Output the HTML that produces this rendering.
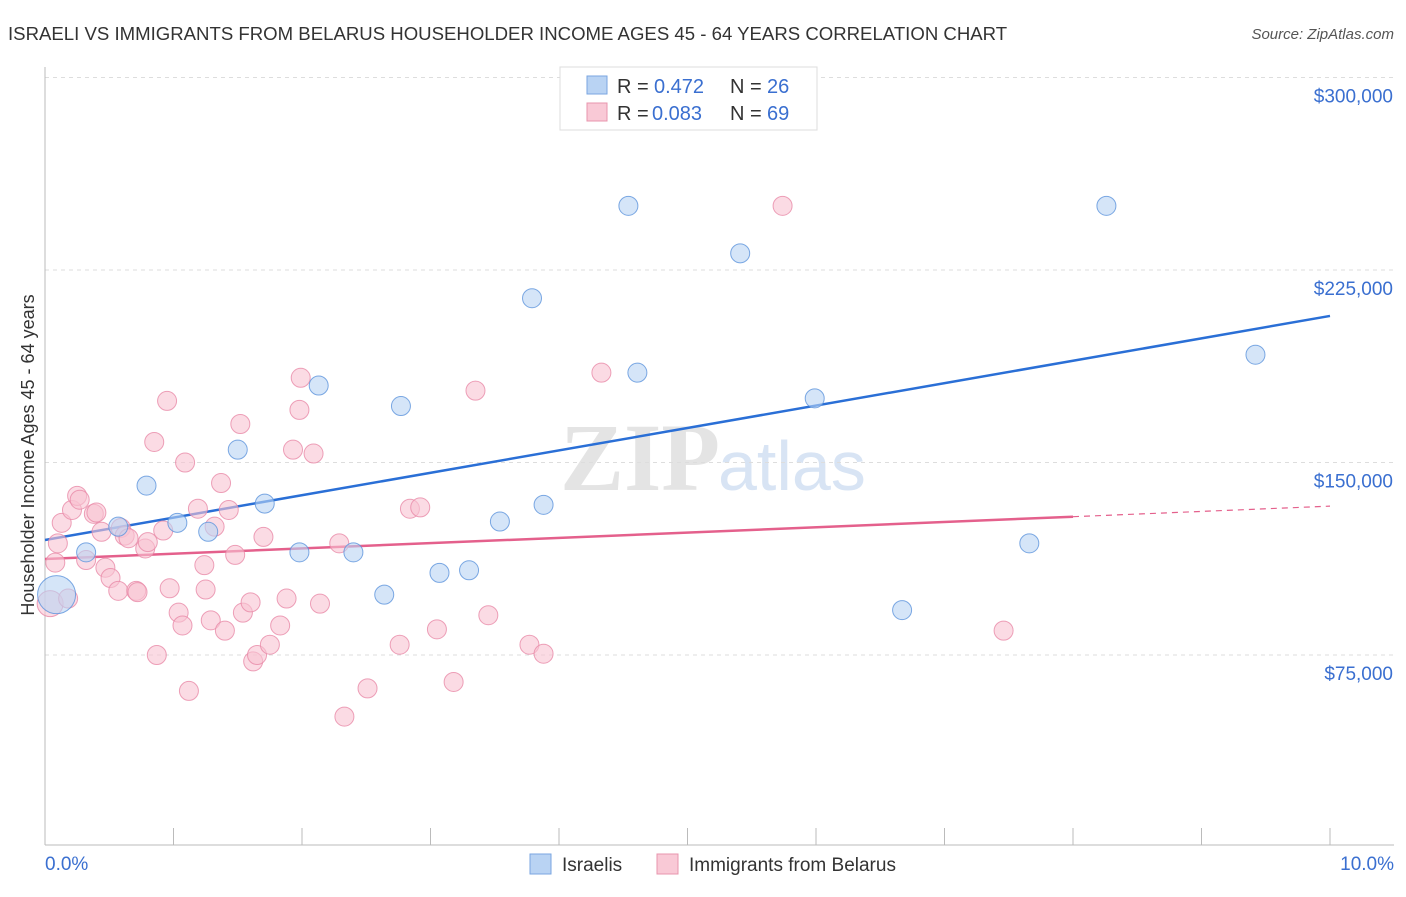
<!DOCTYPE html>
<html><head><meta charset="utf-8"><style>
body{margin:0;background:#fff;font-family:"Liberation Sans",sans-serif;}
</style></head><body>
<svg id="chart" width="1406" height="892" xmlns="http://www.w3.org/2000/svg">
<text x="8" y="40" font-size="18.6" fill="#333">ISRAELI VS IMMIGRANTS FROM BELARUS HOUSEHOLDER INCOME AGES 45 - 64 YEARS CORRELATION CHART</text>
<text x="1394" y="39" font-size="15" fill="#555" font-style="italic" text-anchor="end">Source: ZipAtlas.com</text>
<text x="720" y="490" font-size="96" fill="#e4e4e4" text-anchor="end" font-family="Liberation Serif" font-weight="bold">ZIP</text>
<text x="718" y="490" font-size="70" fill="#d8e4f4">atlas</text>
<text transform="translate(34,455) rotate(-90)" font-size="18" fill="#333" text-anchor="middle">Householder Income Ages 45 - 64 years</text>
<g id="grid"></g><g id="axes"></g><g id="trends"></g><g id="pts"></g>
<g>
<rect x="560" y="67" width="257" height="63" fill="#fff" stroke="#ddd"/>
<rect x="587" y="76" width="20" height="18" fill="#b9d3f3" stroke="#7aa6e0"/>
<text x="617" y="93" font-size="20" fill="#333">R = </text><text x="654" y="93" font-size="20" fill="#3a6fd0">0.472</text>
<text x="730" y="93" font-size="20" fill="#333">N = </text><text x="767" y="93" font-size="20" fill="#3a6fd0">26</text>
<rect x="587" y="103" width="20" height="18" fill="#f9c9d6" stroke="#e895ad"/>
<text x="617" y="120" font-size="20" fill="#333">R = </text><text x="652" y="120" font-size="20" fill="#3a6fd0">0.083</text>
<text x="730" y="120" font-size="20" fill="#333">N = </text><text x="767" y="120" font-size="20" fill="#3a6fd0">69</text>
</g>
<g>
<rect x="530" y="854" width="21" height="20" fill="#b9d3f3" stroke="#7aa6e0"/>
<text x="562" y="871" font-size="19" fill="#333">Israelis</text>
<rect x="657" y="854" width="21" height="20" fill="#f9c9d6" stroke="#e895ad"/>
<text x="689" y="871" font-size="19" fill="#333">Immigrants from Belarus</text>
</g>
</svg>
<script>
const yTicks=[75000,150000,225000,300000];
const yTickLabels=["$75,000","$150,000","$225,000","$300,000"];
const xTickLabels=["0.0%","10.0%"];
const blueX=[0.09,0.32,0.57,0.79,1.03,1.27,1.50,1.71,1.98,2.13,2.40,2.64,2.77,3.07,3.30,3.54,3.79,3.88,4.54,4.61,5.41,5.99,6.67,7.66,8.26,9.42];
const blueY=[98500,115000,125000,141000,126500,123000,155000,134000,115000,180000,115000,98500,172000,107000,108000,127000,214000,133500,250000,185000,231500,175000,92500,118500,250000,192000];
const pinkX=[0.04,0.08,0.10,0.13,0.18,0.21,0.25,0.27,0.32,0.38,0.40,0.44,0.47,0.51,0.57,0.59,0.62,0.65,0.71,0.72,0.78,0.80,0.85,0.87,0.92,0.95,0.97,1.04,1.07,1.09,1.12,1.19,1.24,1.25,1.29,1.32,1.37,1.40,1.43,1.48,1.52,1.54,1.60,1.62,1.65,1.70,1.75,1.83,1.88,1.93,1.98,1.99,2.09,2.14,2.29,2.33,2.51,2.76,2.84,2.92,3.05,3.18,3.35,3.45,3.77,3.88,4.33,5.74,7.46];
const pinkY=[95000,111000,118500,126500,97000,131500,137000,135500,112000,130000,130500,123000,109000,105000,100000,124500,121500,120500,100000,99500,116500,119000,158000,75000,123500,174000,101000,91500,86500,150000,61000,132000,110000,100500,88500,125000,142000,84500,131500,114000,165000,91500,95500,72500,75000,121000,79000,86500,97000,155000,170500,183000,153500,95000,118500,51000,62000,79000,132000,132500,85000,64500,178000,90500,79000,75500,185000,250000,84500];
const trendBlue=[119800,207100];
const trendPink=[112400,133000];
const pinkSolidEnd=8.0;

const NS="http://www.w3.org/2000/svg";
const X0=45,X1=1330,xs=v=>X0+(v/10)*(X1-X0);
const ys=v=>847.5-v/75000*192.5;
function mk(tag,attrs,parent){const e=document.createElementNS(NS,tag);for(const k in attrs)e.setAttribute(k,attrs[k]);document.getElementById(parent).appendChild(e);return e;}
yTicks.forEach((t,i)=>{
 const l=mk('line',{x1:45,x2:1394,y1:ys(t),y2:ys(t),stroke:'#ddd','stroke-dasharray':'4,4'},'grid');
 
 
 const tx=mk('text',{x:1393,y:ys(t)+25,'font-size':19,fill:'#3a6fd0','text-anchor':'end'},'grid');
 tx.textContent=yTickLabels[i];
 
 
});
let ax=mk('line',{x1:45,x2:1394,y1:845,y2:845,stroke:'#bbb'},'axes');


let ay=mk('line',{x1:45,x2:45,y1:67,y2:845,stroke:'#bbb'},'axes');


for(let i=0;i<=10;i++){
 const t=mk('line',{x1:xs(i),x2:xs(i),y1:828,y2:845,stroke:'#bbb'},'axes');
 
 
}
[[0,'start',45],[10,'end',1394]].forEach((d,i)=>{
 const t=mk('text',{x:d[2],y:870,'font-size':19,fill:'#3a6fd0','text-anchor':d[1]},'axes');
 t.textContent=xTickLabels[i];
 
 
});
function draw(xa,ya,fill,stroke,name,bigR){
 xa.forEach((x,i)=>{
  const r=(i===0)?bigR:9.5;
  const c=mk('circle',{cx:xs(x),cy:ys(ya[i]),r:r,fill:fill,'fill-opacity':0.6,stroke:stroke,'stroke-width':1,'stroke-opacity':0.8},'pts');
  
  
 });
}
draw(pinkX,pinkY,'#f9c3d2','#e98aa8','belarus-point',13);
draw(blueX,blueY,'#b9d3f3','#5d93dc','israeli-point',19);
const pl=v=>trendPink[0]+(trendPink[1]-trendPink[0])*v/10;
let tb=mk('line',{x1:xs(0),y1:ys(trendBlue[0]),x2:xs(10),y2:ys(trendBlue[1]),stroke:'#2a6fd6','stroke-width':2.5},'trends');


let tp=mk('line',{x1:xs(0),y1:ys(pl(0)),x2:xs(pinkSolidEnd),y2:ys(pl(pinkSolidEnd)),stroke:'#e4608c','stroke-width':2.5},'trends');


let td=mk('line',{x1:xs(pinkSolidEnd),y1:ys(pl(pinkSolidEnd)),x2:xs(10),y2:ys(pl(10)),stroke:'#e4608c','stroke-width':1.2,'stroke-dasharray':'6,5'},'trends');


</script>
</body></html>
